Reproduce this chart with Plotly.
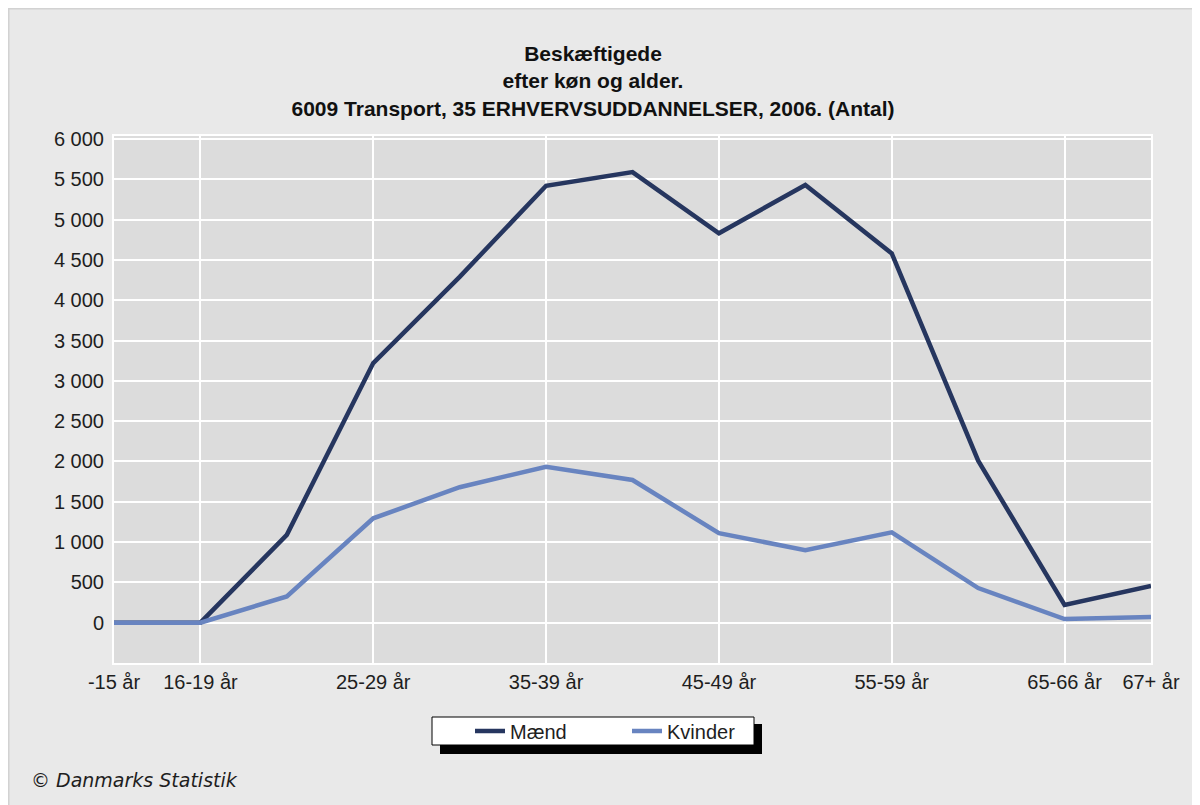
import plotly.graph_objects as go

# ---- data ----
age_groups = ["-15 år", "16-19 år", "20-24 år", "25-29 år", "30-34 år", "35-39 år",
              "40-44 år", "45-49 år", "50-54 år", "55-59 år", "60-64 år", "65-66 år", "67+ år"]
maend = [0, 0, 1090, 3220, 4290, 5420, 5590, 4830, 5430, 4580, 2010, 220, 455]
kvinder = [0, 0, 325, 1295, 1680, 1935, 1770, 1110, 900, 1120, 430, 45, 70]
shown_ticks = ["-15 år", "16-19 år", "25-29 år", "35-39 år", "45-49 år", "55-59 år", "65-66 år", "67+ år"]
y_ticks = [0, 500, 1000, 1500, 2000, 2500, 3000, 3500, 4000, 4500, 5000, 5500, 6000]
y_ticktext = ["0", "500", "1 000", "1 500", "2 000", "2 500", "3 000", "3 500",
              "4 000", "4 500", "5 000", "5 500", "6 000"]

# the page has an 8px body margin; work in figure coordinates
W_FIG, H_FIG = 1192, 797
L, R, T, B = 106, 49, 128, 142
PW = W_FIG - L - R
PH = H_FIG - T - B


def px(x):
    return (x - L) / PW


def py(y):
    return (H_FIG - B - y) / PH


FONT = "Liberation Sans, Arial, sans-serif"

fig = go.Figure()
fig.add_trace(go.Scatter(x=age_groups, y=maend, mode="lines", name="Mænd",
                         line=dict(color="#26365f", width=4.5)))
fig.add_trace(go.Scatter(x=age_groups, y=kvinder, mode="lines", name="Kvinder",
                         line=dict(color="#6884c0", width=4.5)))

shapes = [
    # thin panel border at top and left
    dict(type="line", xref="paper", yref="paper", x0=px(0.5), x1=px(1220), y0=py(0.5), y1=py(0.5),
         line=dict(color="#d2d2d2", width=2), layer="below"),
    dict(type="line", xref="paper", yref="paper", x0=px(0.5), x1=px(0.5), y0=py(0), y1=py(830),
         line=dict(color="#d2d2d2", width=2), layer="below"),
    # legend shadow and box
    dict(type="rect", xref="paper", yref="paper", x0=px(432), x1=px(754), y0=py(746), y1=py(716),
         fillcolor="black", line=dict(width=0), layer="below"),
    dict(type="rect", xref="paper", yref="paper", x0=px(424), x1=px(746), y0=py(737), y1=py(709),
         fillcolor="white", line=dict(color="black", width=1), layer="below"),
]

fig.update_layout(
    width=W_FIG, height=H_FIG,
    margin=dict(l=L, r=R, t=T, b=B, pad=0),
    paper_bgcolor="#e9e9e9",
    plot_bgcolor="#dcdcdc",
    font=dict(family=FONT, size=20, color="#1e1e1e"),
    title=dict(
        text="<b>Beskæftigede<br>efter køn og alder.<br>6009 Transport, 35 ERHVERVSUDDANNELSER, 2006. (Antal)</b>",
        x=585 / W_FIG, xanchor="center", xref="container",
        y=1 - 53 / H_FIG, yanchor="top", yref="container",
        font=dict(family=FONT, size=21, color="#111111"),
    ),
    xaxis=dict(
        type="category", range=[0, len(age_groups) - 1],
        tickmode="array", tickvals=shown_ticks, ticktext=shown_ticks,
        showgrid=True, gridcolor="white", gridwidth=2,
        showline=True, linecolor="white", linewidth=2, mirror=True,
        ticks="", ticklen=0, ticklabelstandoff=0,
        tickfont=dict(family=FONT, size=20, color="#1e1e1e"),
        fixedrange=True,
    ),
    yaxis=dict(
        range=[-500, 6037],
        tickmode="array", tickvals=y_ticks, ticktext=y_ticktext,
        showgrid=True, gridcolor="white", gridwidth=2,
        zeroline=False,
        showline=True, linecolor="white", linewidth=2, mirror=True,
        ticks="", ticklen=0, ticklabelstandoff=4,
        tickfont=dict(family=FONT, size=20, color="#1e1e1e"),
        fixedrange=True,
    ),
    showlegend=True,
    legend=dict(
        orientation="h",
        x=px(462), xanchor="left",
        y=py(723), yanchor="middle",
        bgcolor="rgba(0,0,0,0)", borderwidth=0,
        font=dict(family=FONT, size=20, color="#1e1e1e"),
        entrywidth=112, entrywidthmode="pixels",
        itemclick=False, itemdoubleclick=False,
    ),
    shapes=shapes,
    annotations=[
        dict(text="<i>© Danmarks Statistik</i>", xref="paper", yref="paper",
             x=px(21), y=py(772), xanchor="left", yanchor="middle", showarrow=False,
             font=dict(family="DejaVu Sans, sans-serif", size=19, color="#1e1e1e")),
    ],
)

fig.write_html("out.html")
